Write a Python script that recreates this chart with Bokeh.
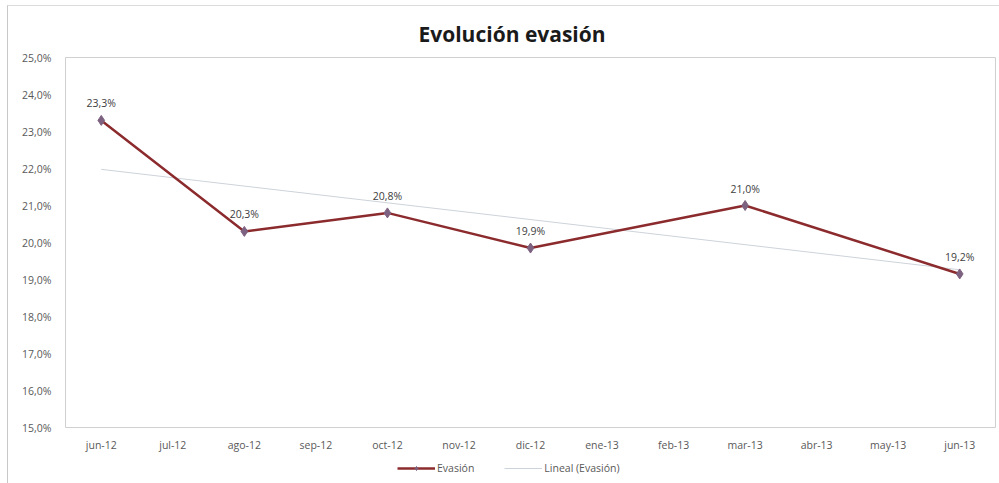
import numpy as np
from bokeh.plotting import figure
from bokeh.layouts import column
from bokeh.models import FactorRange, ColumnDataSource, Legend, LegendItem, FixedTicker, CustomJSTickFormatter
from bokeh.embed import file_html
from bokeh.resources import INLINE
from bokeh.core.properties import value

# Monthly categories on the x axis
months = ["jun-12", "jul-12", "ago-12", "sep-12", "oct-12", "nov-12", "dic-12",
          "ene-13", "feb-13", "mar-13", "abr-13", "may-13", "jun-13"]

# Measured dropout rate (%) — only some months have a value
evasion_months = ["jun-12", "ago-12", "oct-12", "dic-12", "mar-13", "jun-13"]
evasion_values = [23.3, 20.3, 20.8, 19.85, 21.0, 19.15]
evasion_labels = ["23,3%", "20,3%", "20,8%", "19,9%", "21,0%", "19,2%"]

y_ticks = [15, 16, 17, 18, 19, 20, 21, 22, 23, 24, 25]

FONT = "Open Sans"
LINE_COLOR = "#8c2b2d"
MARK_COLOR = "#7d6180"
TREND_COLOR = "#cdd3da"
TEXT_COLOR = "#595959"

p = figure(
    width=991, height=449,
    x_range=FactorRange(*months), y_range=(15, 25),
    output_backend="svg", toolbar_location=None,
    min_border_left=57, min_border_right=4, min_border_top=51, min_border_bottom=28,
    background_fill_color="white", border_fill_color="white",
)
p.outline_line_color = "#d0d0d0"
p.xgrid.grid_line_color = None
p.ygrid.grid_line_color = None

# Linear trend of the measured points (category index as x)
idx = np.array([months.index(m) + 1 for m in evasion_months], dtype=float)
slope, intercept = np.polyfit(idx, np.array(evasion_values), 1)
trend_x = [months[0], months[-1]]
trend_y = [intercept + slope * 1, intercept + slope * len(months)]
p.line(trend_x, trend_y, line_color=TREND_COLOR, line_width=1)

src = ColumnDataSource(dict(x=evasion_months, y=evasion_values, lab=evasion_labels))
p.line("x", "y", source=src, line_color=LINE_COLOR, line_width=2.5)
p.scatter("x", "y", source=src, marker="diamond", size=10,
          fill_color=MARK_COLOR, line_color=MARK_COLOR)
p.text("x", "y", text="lab", source=src, y_offset=-10,
       text_align="center", text_baseline="bottom",
       text_font=value(FONT), text_font_size="10.5px", text_color="#404040")

# Axes
for ax in (p.xaxis[0], p.yaxis[0]):
    ax.axis_line_color = None
    ax.major_tick_line_color = None
    ax.minor_tick_line_color = None
    ax.major_label_text_font = FONT
    ax.major_label_text_font_size = "10.5px"
    ax.major_label_text_color = TEXT_COLOR
p.xaxis.major_label_standoff = 4
p.yaxis.major_label_standoff = 8
p.yaxis.ticker = FixedTicker(ticks=y_ticks)
p.yaxis.formatter = CustomJSTickFormatter(code="return tick.toFixed(1).replace('.', ',') + '%';")

# Title
p.title.text = "Evolución evasión"
p.title.align = "left"
p.title.offset = 353
p.title.text_font = FONT
p.title.text_font_style = "bold"
p.title.text_font_size = "21px"
p.title.text_color = "#1a1a1a"
p.title.standoff = 20

# Legend strip under the chart
leg = figure(
    width=991, height=28, x_range=(0, 1), y_range=(0, 1),
    output_backend="svg", toolbar_location=None,
    min_border=0, outline_line_color=None,
    background_fill_color="white", border_fill_color="white",
)
leg.axis.visible = False
leg.grid.visible = False
off = [5, 6]  # keys sit outside the visible range; only their legend glyphs show
k_line = leg.line(off, off, line_color=LINE_COLOR, line_width=2.5)
k_mark = leg.scatter(off, off, marker="diamond", size=7, fill_color=MARK_COLOR, line_color=MARK_COLOR)
k_trend = leg.line(off, off, line_color=TREND_COLOR, line_width=1)
legend = Legend(
    items=[LegendItem(label="Evasión", renderers=[k_line, k_mark]),
           LegendItem(label="Lineal (Evasión)", renderers=[k_trend])],
    orientation="horizontal", location=(332, 8),
    label_text_font=FONT, label_text_font_size="10.5px", label_text_color=TEXT_COLOR,
    border_line_color=None, background_fill_alpha=0,
    glyph_width=38, glyph_height=10, spacing=30, padding=0, margin=0,
    label_standoff=2, label_height=10,
)
leg.add_layout(legend)

page = column(p, leg, spacing=0, margin=(5, 0, 0, 7),
              styles={"border-left": "1px solid #c8c8c8", "border-top": "1px solid #dcdcdc"})

open("out.html", "w").write(file_html(page, INLINE))
